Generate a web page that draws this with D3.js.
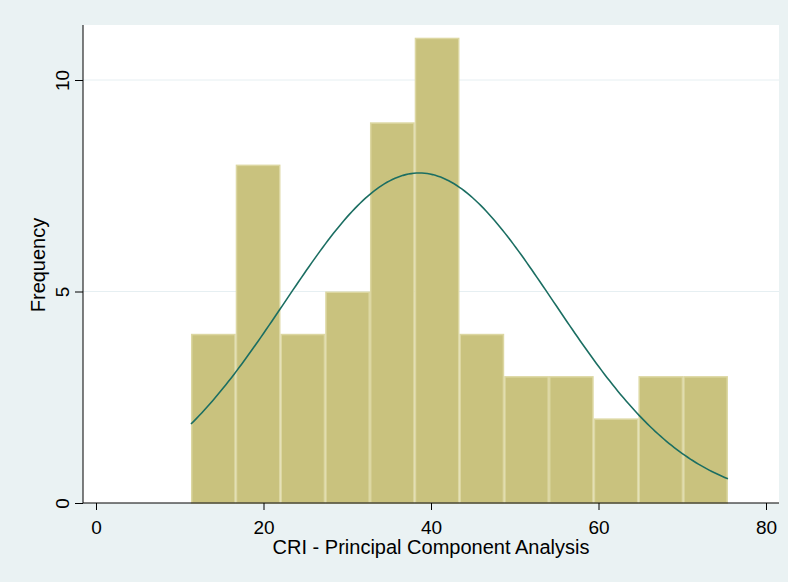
<!DOCTYPE html>
<html>
<head>
<meta charset="utf-8">
<script src="https://cdn.jsdelivr.net/npm/d3@7"></script>
<style>
  html, body { margin: 0; padding: 0; background: #eaf2f3; }
  svg { display: block; font-family: "Liberation Sans", Arial, sans-serif; }
</style>
</head>
<body>
<svg id="chart" width="788" height="582"></svg>
<script>
// Histogram of CRI scores with an overlaid normal density
const binStart = 11.34;
const binWidth = 5.343;
const frequencies = [4, 8, 4, 5, 9, 11, 4, 3, 3, 2, 3, 3];
const xTicks = [0, 20, 40, 60, 80];
const yTicks = [0, 5, 10];
const normalMean = 38.6;
const normalSd = 16.12;

const W = 788, H = 582;
const plot = { left: 83, right: 779, top: 25, bottom: 503 };
const FONT = "Liberation Sans, Arial, sans-serif";

const svg = d3.select("#chart");
svg.append("rect").attr("width", W).attr("height", H).attr("fill", "#eaf2f3");
svg.append("rect")
  .attr("x", plot.left).attr("y", plot.top)
  .attr("width", plot.right - plot.left).attr("height", plot.bottom - plot.top)
  .attr("fill", "#ffffff");

const x = d3.scaleLinear().domain([0, 80]).range([96, 766]);
const y = d3.scaleLinear().domain([0, 10]).range([503, 80]);

// horizontal grid
svg.append("g").selectAll("line")
  .data(yTicks.filter(d => d > 0))
  .join("line")
  .attr("x1", plot.left).attr("x2", plot.right)
  .attr("y1", d => y(d)).attr("y2", d => y(d))
  .attr("stroke", "#e6eff2").attr("stroke-width", 1);

// bars
const bins = frequencies.map((f, i) => ({ x0: binStart + i * binWidth, x1: binStart + (i + 1) * binWidth, f }));
svg.append("g").selectAll("rect")
  .data(bins)
  .join("rect")
  .attr("x", d => x(d.x0) + 0.75)
  .attr("y", d => y(d.f) + 0.75)
  .attr("width", d => x(d.x1) - x(d.x0) - 1.5)
  .attr("height", d => y(0) - y(d.f) - 0.75)
  .attr("fill", "#c9c27e")
  .attr("stroke", "#dcd7a2")
  .attr("stroke-width", 1.5);

// normal density scaled to frequency
const n = d3.sum(frequencies);
const binEnd = binStart + frequencies.length * binWidth;
const density = v => n * binWidth / (normalSd * Math.sqrt(2 * Math.PI)) *
  Math.exp(-0.5 * Math.pow((v - normalMean) / normalSd, 2));
const curvePts = d3.range(0, 201).map(i => binStart + (binEnd - binStart) * i / 200);
svg.append("path")
  .datum(curvePts)
  .attr("fill", "none")
  .attr("stroke", "#1b6e62")
  .attr("stroke-width", 1.6)
  .attr("d", d3.line().x(d => x(d)).y(d => y(density(d))));

// axes
const xAxis = svg.append("g")
  .attr("transform", `translate(0,${plot.bottom})`)
  .call(d3.axisBottom(x).tickValues(xTicks).tickSize(7).tickPadding(4).tickSizeOuter(0));
xAxis.select(".domain").attr("d", `M${plot.left},0H${plot.right}`).attr("stroke", "#000");
xAxis.selectAll(".tick line").attr("stroke", "#000");
xAxis.selectAll("text").attr("font-size", 19).attr("fill", "#000")
  .attr("font-family", FONT)
  .attr("dy", null).attr("y", 31);

const yAxis = svg.append("g")
  .attr("transform", `translate(${plot.left},0)`)
  .call(d3.axisLeft(y).tickValues(yTicks).tickSize(8).tickSizeOuter(0));
yAxis.select(".domain").attr("d", `M0,${plot.top}V${plot.bottom}`).attr("stroke", "#000");
yAxis.selectAll(".tick line").attr("stroke", "#000");
yAxis.selectAll("text")
  .attr("font-size", 19).attr("fill", "#000")
  .attr("font-family", FONT)
  .attr("x", null).attr("dy", null)
  .attr("text-anchor", "middle")
  .attr("transform", "translate(-14,0) rotate(-90)");

// axis titles
svg.append("text")
  .attr("x", 431).attr("y", 554)
  .attr("text-anchor", "middle")
  .attr("font-size", 20)
  .attr("font-family", FONT)
  .text("CRI - Principal Component Analysis");
svg.append("text")
  .attr("transform", `translate(45,${(plot.top + plot.bottom) / 2 + 1}) rotate(-90)`)
  .attr("text-anchor", "middle")
  .attr("font-size", 20)
  .attr("font-family", FONT)
  .text("Frequency");
</script>
</body>
</html>
